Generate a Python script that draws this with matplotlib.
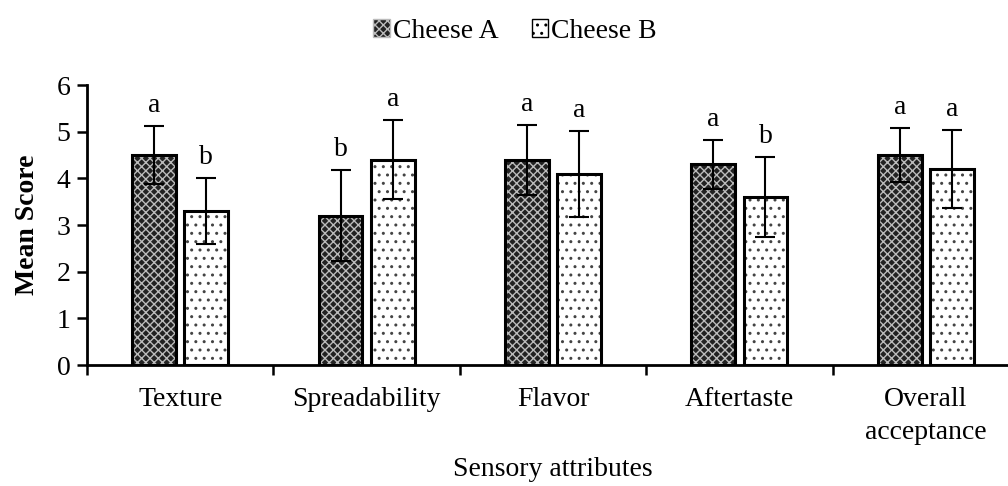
import matplotlib
matplotlib.use("Agg")
import matplotlib.pyplot as plt
import numpy as np
from matplotlib.patches import Patch

plt.rcParams["font.family"] = ["Liberation Serif", "DejaVu Serif"]
plt.rcParams["hatch.linewidth"] = 1.0

# data
categories = ["Texture", "Spreadability", "Flavor", "Aftertaste", "Overall\nacceptance"]
cheese_a = [4.5, 3.2, 4.4, 4.3, 4.5]
cheese_a_err = [0.63, 0.97, 0.75, 0.53, 0.57]
cheese_a_sig = ["a", "b", "a", "a", "a"]
cheese_b = [3.3, 4.4, 4.1, 3.6, 4.2]
cheese_b_err = [0.70, 0.85, 0.92, 0.85, 0.83]
cheese_b_sig = ["b", "a", "a", "b", "a"]

x = np.arange(len(categories))
width = 0.235
off = 0.14
fs = 20

fig = plt.figure(figsize=(10.08, 4.86), dpi=100)
# the plot area runs a little past the right edge of the picture, as in the source
ax = fig.add_axes([87 / 1008, 121 / 486, 932 / 1008, 280 / 486])

# Cheese A: dark with light pattern
ax.bar(x - off, cheese_a, width, color="#222222", edgecolor="#bbbbbb",
       hatch="xxxx", linewidth=0, zorder=2)
ax.bar(x - off, cheese_a, width, color="none", edgecolor="black",
       linewidth=2.2, zorder=3)
# Cheese B: white with dots
ax.bar(x + off, cheese_b, width, color="white", edgecolor="#444444",
       hatch="..", linewidth=0, zorder=2)
ax.bar(x + off, cheese_b, width, color="none", edgecolor="black",
       linewidth=2.2, zorder=3)

ax.errorbar(x - off, cheese_a, yerr=cheese_a_err, fmt="none", ecolor="black",
            elinewidth=1.5, capsize=7.5, capthick=1.5, zorder=4)
ax.errorbar(x + off, cheese_b, yerr=cheese_b_err, fmt="none", ecolor="black",
            elinewidth=1.5, capsize=7.5, capthick=1.5, zorder=4)

for xi, v, e, s in zip(x - off, cheese_a, cheese_a_err, cheese_a_sig):
    ax.text(xi, v + e + 0.3, s, ha="center", va="baseline", fontsize=fs)
for xi, v, e, s in zip(x + off, cheese_b, cheese_b_err, cheese_b_sig):
    ax.text(xi, v + e + 0.3, s, ha="center", va="baseline", fontsize=fs)

ax.set_ylim(0, 6)
ax.set_yticks(range(0, 7))
ax.set_xlim(-0.5, 4.5)
ax.set_xticks(np.arange(-0.5, 5.0, 1.0))
ax.set_xticklabels([])
ax.set_xticks(x, minor=True)
ax.set_xticklabels(categories, minor=True, fontsize=fs, linespacing=1.4)
ax.tick_params(axis="x", which="minor", length=0, pad=16)
ax.tick_params(axis="x", which="major", length=7, width=1.8, direction="out")
ax.tick_params(axis="y", length=7, width=1.8, labelsize=fs, pad=5)

for sp in ["top", "right"]:
    ax.spines[sp].set_visible(False)
for sp in ["left", "bottom"]:
    ax.spines[sp].set_linewidth(2.0)

ax.set_ylabel("Mean Score", fontsize=fs, fontweight="bold", labelpad=12)
# centred on the full plot area, which is wider than the picture
fig.text(553 / 1008, 0.02, "Sensory attributes", fontsize=fs,
         ha="center", va="baseline")

handles = [
    Patch(facecolor="#222222", edgecolor="#bbbbbb", hatch="xxxx", label="Cheese A"),
    Patch(facecolor="white", edgecolor="black", hatch="..", label="Cheese B"),
]
fig.legend(handles=handles, loc="center", bbox_to_anchor=(515 / 1008, 0.935), ncol=2,
           frameon=False, fontsize=fs, handlelength=0.6, handleheight=0.6,
           handletextpad=0.1, columnspacing=1.2)

fig.savefig("out.png", dpi=100)
